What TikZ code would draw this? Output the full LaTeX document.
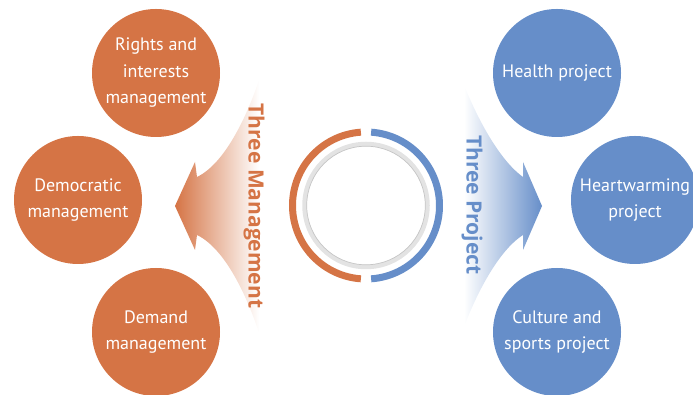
\documentclass[tikz,border=0pt]{standalone}
\usepackage{fontspec}
\setmainfont{PT Sans}
\newfontfamily\labelfont{Open Sans}
\usetikzlibrary{positioning}
\definecolor{mgmtorange}{RGB}{213,116,69}
\definecolor{projblue}{RGB}{102,142,201}

\begin{document}
\begin{tikzpicture}
    [
        x=1pt, y=1pt, node distance=127pt and 78pt, on grid,
        mgmt_node/.style={circle, fill=mgmtorange, minimum size=128pt, inner sep=0pt, text=white, align=center, font=\fontsize{18}{26.5}\selectfont},
        proj_node/.style={circle, fill=projblue, minimum size=128pt, inner sep=0pt, text=white, align=center, font=\fontsize{18}{26.5}\selectfont},
        side_label/.style={rotate=-90, font=\labelfont\bfseries\fontsize{21}{24}\selectfont},
    ]
        \useasboundingbox (0,0) rectangle (693,395);
        % big fading arrows
        \shade[left color=mgmtorange, right color=white] (175,189) -- (195,233) -- (197,218) .. controls (226,232) and (248,282) .. (259,315) -- (259,62) .. controls (248,96) and (226,146) .. (197,160) -- (195,145) -- cycle;
        \shade[left color=white, right color=projblue] (542,189) -- (523,233) -- (523,218) .. controls (498,236) and (476,280) .. (464,310) -- (464,68) .. controls (476,100) and (498,144) .. (523,160) -- (523,145) -- cycle;
        \node[side_label, text=mgmtorange] (mgmt_label) at (254,189) {Three Management};
        \node[side_label, text=projblue] (proj_label) at (472,190) {Three Project};
        % centre ring
        \coordinate (hub) at (366,189.5);
        \draw[gray!22, line width=4.5pt] (hub) circle[radius=61.5];
        \draw[gray!45, line width=0.7pt] (hub) circle[radius=59.3];
        \draw[mgmtorange, line width=7pt] ([shift={(94:73.5)}]hub) arc[start angle=94, end angle=266, radius=73.5];
        \draw[projblue, line width=7pt] ([shift={(-86:73.5)}]hub) arc[start angle=-86, end angle=86, radius=73.5];
        % three management
        \node[mgmt_node] (democratic) at (78,195) {Democratic\\management};
        \node[mgmt_node] (rights) [above right=127pt and 78pt of democratic] {Rights and\\interests\\management};
        \node[mgmt_node] (demand) [below right=132pt and 78pt of democratic] {Demand\\management};
        % three project
        \node[proj_node] (heartwarming) at (635,195) {Heartwarming\\project};
        \node[proj_node] (health) [above left=127pt and 78pt of heartwarming] {Health project};
        \node[proj_node] (culture) [below left=132pt and 78pt of heartwarming] {Culture and\\sports project};
    \end{tikzpicture}
\end{document}
